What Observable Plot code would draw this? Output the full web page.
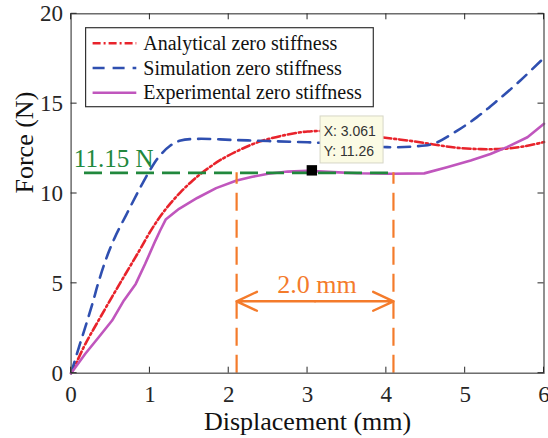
<!DOCTYPE html>
<html><head><meta charset="utf-8">
<script src="https://cdn.jsdelivr.net/npm/d3@7"></script>
<script src="https://cdn.jsdelivr.net/npm/@observablehq/plot@0.6"></script>
<style>body{margin:0;background:#fff}</style>
</head><body><div id="chart"></div>
<script>
// ---- data ----
const analyticalX = [0, 0.06, 0.18, 0.35, 0.52, 0.69, 0.86, 1.0, 1.13, 1.26, 1.39, 1.52, 1.64, 1.77, 1.9, 2.15, 2.4, 2.66, 3.0, 3.3, 3.6, 3.93, 4.27, 4.6, 4.9, 5.2, 5.49, 5.74, 6.0];
const analyticalY = [0, 0.52, 1.62, 2.95, 4.25, 5.52, 6.78, 7.85, 8.72, 9.45, 10.08, 10.63, 11.08, 11.5, 11.88, 12.45, 12.9, 13.2, 13.45, 13.46, 13.33, 13.13, 12.95, 12.73, 12.54, 12.47, 12.49, 12.62, 12.86];
const simulationX = [0, 0.1, 0.18, 0.27, 0.35, 0.46, 0.56, 0.71, 0.88, 1.01, 1.11, 1.26, 1.39, 1.6, 2.06, 2.5, 3.0, 3.5, 4.01, 4.35, 4.6, 4.9, 5.15, 5.41, 5.7, 6.0];
const simulationY = [0, 1.45, 2.56, 3.86, 5.1, 6.55, 7.6, 8.9, 10.35, 11.37, 12.02, 12.67, 12.95, 13.04, 12.98, 12.92, 12.85, 12.75, 12.58, 12.62, 12.77, 13.5, 14.25, 15.18, 16.29, 17.55];
const experimentalX = [0, 0.18, 0.35, 0.52, 0.67, 0.82, 0.94, 1.07, 1.13, 1.2, 1.37, 1.6, 1.84, 2.1, 2.3, 2.5, 2.75, 3.0, 3.33, 3.63, 4.05, 4.48, 4.77, 5.07, 5.32, 5.53, 5.79, 6.0];
const experimentalY = [0, 1.08, 2.0, 2.93, 4.05, 4.97, 6.09, 7.38, 7.94, 8.55, 9.15, 9.75, 10.3, 10.72, 10.93, 11.1, 11.22, 11.26, 11.19, 11.13, 11.1, 11.12, 11.46, 11.84, 12.2, 12.58, 13.13, 13.88];

const seriesNames = ["Analytical zero stiffness", "Simulation zero stiffness", "Experimental zero stiffness"];
const xTicks = [0, 1, 2, 3, 4, 5, 6];
const yTicks = [0, 5, 10, 15, 20];

const plateauForce = 11.15;          // green dashed level
const plateauLineStart = 0.17;
const plateauStart = 2.1, plateauEnd = 4.09;  // orange limits
const arrowLevel = 4.0;
const plateauLabel = "11.15 N";
const plateauLabelX = 0.035, plateauLabelY = 11.91;
const widthLabel = "2.0 mm";
const widthLabelX = 3.12, widthLabelY = 4.91;
const tipX = 3.061, tipY = 11.26;

// ---- styles ----
const colors = ["#e8232b", "#2f4fb0", "#c056bd"];
const dashes = ["8,3,2,3", "12,8", null];
const green = "#21883d", orange = "#f47b2b", axisColor = "#262626";

const toRows = (xs, ys) => xs.map((x, i) => ({x, y: ys[i]}));
const series = [toRows(analyticalX, analyticalY), toRows(simulationX, simulationY), toRows(experimentalX, experimentalY)];

function insideTicks(index, scales, values, dims) {
  const g = d3.create("svg:g").attr("stroke", axisColor).attr("stroke-width", 1);
  const top = dims.marginTop, bottom = dims.height - dims.marginBottom;
  const left = dims.marginLeft, right = dims.width - dims.marginRight;
  const L = 6;
  for (const t of xTicks) {
    const px = scales.x(t);
    g.append("line").attr("x1", px).attr("x2", px).attr("y1", bottom).attr("y2", bottom - L);
    g.append("line").attr("x1", px).attr("x2", px).attr("y1", top).attr("y2", top + L);
  }
  for (const t of yTicks) {
    const py = scales.y(t);
    g.append("line").attr("y1", py).attr("y2", py).attr("x1", left).attr("x2", left + L);
    g.append("line").attr("y1", py).attr("y2", py).attr("x1", right).attr("x2", right - L);
  }
  return g.node();
}

function legendMark(index, scales, values, dims) {
  const g = d3.create("svg:g");
  const bx = dims.marginLeft + 15, by = dims.marginTop + 14.4, bw = 287.7, bh = 79;
  g.append("rect").attr("x", bx).attr("y", by).attr("width", bw).attr("height", bh)
    .attr("fill", "white").attr("stroke", "#333").attr("stroke-width", 1.2);
  seriesNames.forEach((name, i) => {
    const cy = by + 15.6 + i * 24.7;
    g.append("line").attr("x1", bx + 7).attr("x2", bx + 50.7).attr("y1", cy).attr("y2", cy)
      .attr("stroke", colors[i]).attr("stroke-width", 2.6)
      .attr("stroke-dasharray", dashes[i]);
    g.append("text").attr("x", bx + 57.7).attr("y", cy).attr("dy", "0.33em")
      .attr("text-anchor", "start")
      .attr("font-size", 20).attr("fill", "#111").text(name);
  });
  return g.node();
}

function datatipMark(index, scales, values, dims) {
  const g = d3.create("svg:g");
  const mx = scales.x(tipX), my = scales.y(tipY);
  const bx = mx + 8.2, by = my - 54.4;
  g.append("rect").attr("x", bx).attr("y", by).attr("width", 63).attr("height", 47)
    .attr("fill", "#fbfbe4").attr("stroke", "#d6d6c6").attr("stroke-width", 1);
  g.append("text").attr("x", bx + 3.6).attr("y", by + 20).attr("font-family", "Liberation Sans")
    .attr("text-anchor", "start")
    .attr("font-size", 14).attr("fill", "#333").text("X: " + tipX.toFixed(3));
  g.append("text").attr("x", bx + 3.6).attr("y", by + 40.4).attr("font-family", "Liberation Sans")
    .attr("text-anchor", "start")
    .attr("font-size", 14).attr("fill", "#333").text("Y: " + tipY.toFixed(2));
  g.append("rect").attr("x", mx - 5.2).attr("y", my - 5.2).attr("width", 10.4).attr("height", 10.4).attr("fill", "black");
  return g.node();
}

const chart = Plot.plot({
  width: 548,
  height: 438,
  marginLeft: 70.6,
  marginRight: 4.5,
  marginTop: 13.3,
  marginBottom: 65.3,
  style: {fontFamily: "Liberation Serif", fontSize: "23px", color: axisColor, background: "white"},
  x: {domain: [0, 6], ticks: xTicks, tickFormat: d => String(d), tickSize: 0, tickPadding: 12, label: null},
  y: {domain: [0, 20], ticks: yTicks, tickFormat: d => String(d), tickSize: 0, tickPadding: 8, label: null},
  marks: [
    Plot.line(series[0], {x: "x", y: "y", stroke: colors[0], strokeWidth: 2.6, strokeDasharray: dashes[0], curve: "catmull-rom"}),
    Plot.line(series[1], {x: "x", y: "y", stroke: colors[1], strokeWidth: 2.6, strokeDasharray: dashes[1], curve: "catmull-rom"}),
    Plot.line(series[2], {x: "x", y: "y", stroke: colors[2], strokeWidth: 2.6}),
    Plot.ruleY([plateauForce], {x1: plateauLineStart, x2: plateauEnd, stroke: green, strokeWidth: 2.6, strokeDasharray: "18,8"}),
    Plot.ruleX([plateauStart, plateauEnd], {y1: 0, y2: plateauForce, stroke: orange, strokeWidth: 2.2, strokeDasharray: "18,9"}),
    Plot.arrow([plateauStart, plateauEnd], {x1: (plateauStart + plateauEnd) / 2, y1: arrowLevel, x2: d => d, y2: arrowLevel, stroke: orange, strokeWidth: 2.4, headLength: 14, headAngle: 50}),
    Plot.text([plateauLabel], {x: plateauLabelX, y: plateauLabelY, text: d => d, textAnchor: "start", lineAnchor: "middle", fill: green, fontSize: 25}),
    Plot.text([widthLabel], {x: widthLabelX, y: widthLabelY, text: d => d, lineAnchor: "middle", fill: orange, fontSize: 26}),
    Plot.frame({stroke: "#555", strokeWidth: 1.3}),
    insideTicks,
    legendMark,
    datatipMark,
    Plot.text(["Displacement (mm)"], {frameAnchor: "bottom", lineAnchor: "middle", dy: 48, fontSize: 26, fill: "#111"}),
    Plot.text(["Force (N)"], {frameAnchor: "left", lineAnchor: "middle", dx: -46, rotate: -90, fontSize: 26, fill: "#111"})
  ]
});
document.getElementById("chart").append(chart);
</script>
</body></html>
